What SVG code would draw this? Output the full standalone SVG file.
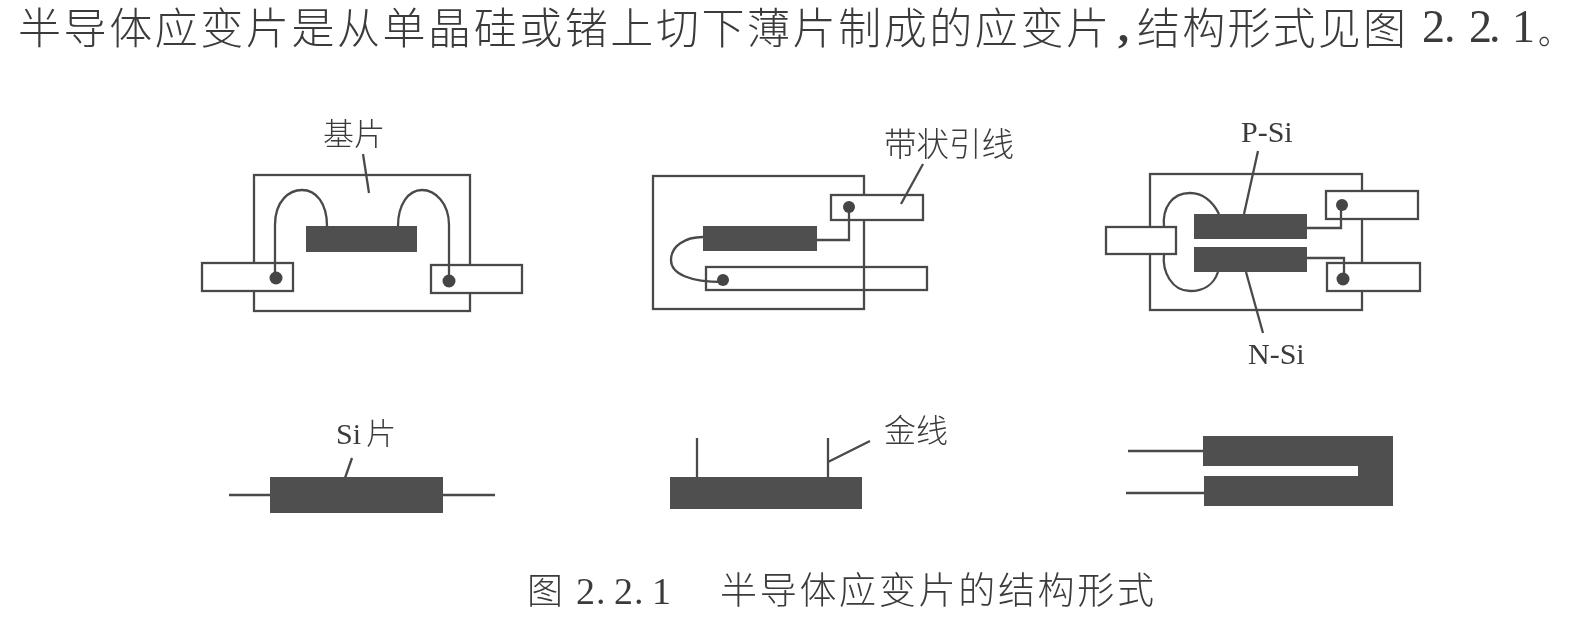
<svg xmlns="http://www.w3.org/2000/svg" width="1570" height="617" viewBox="0 0 1570 617">
<style>
.o{fill:none;stroke:#4a4a4a;stroke-width:2.3}
.l{fill:#fff;stroke:#4a4a4a;stroke-width:2.3}
.b{fill:#505050}
.d{fill:#454545}
.t{font-family:"Liberation Serif","Noto Sans CJK SC",sans-serif;font-weight:300;fill:#3a3a3a}
.r{font-family:"Liberation Serif","Noto Sans CJK SC",serif;fill:#3a3a3a}
</style>
<defs><filter id="soft" x="0" y="0" width="1" height="1"><feGaussianBlur stdDeviation="0.5"/></filter></defs>
<rect width="1570" height="617" fill="#fff"/>
<g filter="url(#soft)">
<g id="heading">
<text class="t" x="18" y="44" font-size="43" textLength="1091" lengthAdjust="spacing">半导体应变片是从单晶硅或锗上切下薄片制成的应变片</text>
<text class="r" x="1118" y="42" font-size="44" font-weight="bold">,</text>
<text class="t" x="1137" y="44" font-size="43" textLength="269" lengthAdjust="spacing">结构形式见图</text>
<text class="r" x="1422 1444 1469 1489 1512" y="42" font-size="46">2.2.1</text>
<text class="t" x="1538" y="44" font-size="32">。</text>
</g>
<g id="fig-a">
<rect class="o" x="254" y="175" width="216" height="136"/>
<rect class="b" x="306" y="226" width="111" height="26"/>
<rect class="l" x="202" y="263" width="91" height="28"/>
<rect class="l" x="431" y="265" width="91" height="28"/>
<text class="t" x="323" y="145" font-size="31">基片</text>
</g>
<g id="fig-b">
<rect class="o" x="653" y="176" width="211" height="133"/>
<rect class="b" x="703" y="226" width="114" height="25"/>
<rect class="l" x="831" y="195" width="92" height="25"/>
<rect class="o" x="706" y="267" width="221" height="23"/>
<text class="t" x="884" y="156" font-size="32.5">带状引线</text>
</g>
<g id="fig-c">
<rect class="o" x="1150" y="174" width="212" height="136"/>
<rect class="l" x="1106" y="227" width="70" height="27"/>
<rect class="b" x="1194" y="214" width="113" height="25"/>
<rect class="b" x="1194" y="247" width="113" height="25"/>
<rect class="l" x="1326" y="191" width="92" height="28"/>
<rect class="l" x="1327" y="263" width="93" height="28"/>
<text class="r" x="1241" y="142" font-size="30">P-Si</text>
<text class="r" x="1248" y="364" font-size="30">N-Si</text>
</g>
<g id="fig-d">
<rect class="b" x="270" y="477" width="173" height="36"/>
<text class="r" x="336" y="444" font-size="30">Si</text>
<text class="t" x="366" y="444" font-size="30">片</text>
</g>
<g id="fig-e">
<rect class="b" x="670" y="477" width="192" height="32"/>
<text class="t" x="884" y="442" font-size="32">金线</text>
</g>
<g id="fig-f">
<path class="b" d="M1203 436H1393V506H1204V476H1358V466H1203Z"/>
</g>
<g id="connectors">
<path class="o" d="M275 278V225C275 200 290 190 302 190C316 190 327 203 327 226"/>
<path class="o" d="M449 281V225C449 203 435 190 422 190C408 190 398 205 398 226"/>
<path class="o" d="M363 154L369 193"/>
<path class="o" d="M817 240H849V207"/>
<path class="o" d="M703 237C685 237 671 246 671 260C671 274 690 282 723 282"/>
<path class="o" d="M923 164L901 204"/>
<path class="o" d="M1307 228H1341V205"/>
<path class="o" d="M1307 258H1344V279"/>
<path class="o" d="M1164 227C1162 208 1172 193 1190 193C1203 193 1213 202 1219 214"/>
<path class="o" d="M1164 254C1162 272 1172 291 1190 291C1204 291 1214 284 1218 272"/>
<path class="o" d="M1258 151L1244 214"/>
<path class="o" d="M1246 272L1263 333"/>
<path class="o" d="M229 495H270M443 495H495"/>
<path class="o" d="M352 458L345 478"/>
<path class="o" d="M697 438V477M828 438V477M828 462L870 441"/>
<path class="o" d="M1128 451H1203M1126 493H1204"/>
<circle class="d" cx="276" cy="278" r="6.5"/>
<circle class="d" cx="449" cy="281" r="6.5"/>
<circle class="d" cx="849" cy="207" r="6"/>
<circle class="d" cx="723" cy="280" r="6"/>
<circle class="d" cx="1342" cy="205" r="6"/>
<circle class="d" cx="1343" cy="279" r="6.5"/>
</g>
<g id="caption">
<text class="t" x="527" y="604" font-size="36">图</text>
<text class="r" x="576 596 614 634 652" y="604" font-size="38">2.2.1</text>
<text class="t" x="720" y="604" font-size="37" textLength="434" lengthAdjust="spacing">半导体应变片的结构形式</text>
</g>
</g>
</svg>
